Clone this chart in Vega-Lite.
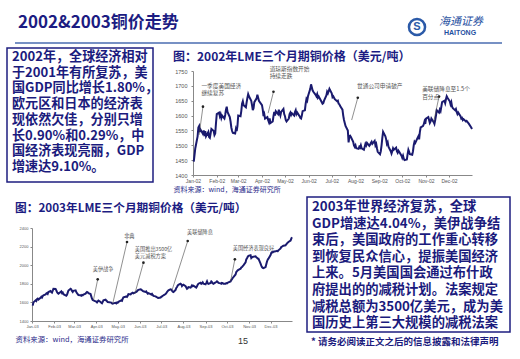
{
"$schema": "https://vega.github.io/schema/vega-lite/v6.json",
"width": 520,
"height": 359,
"autosize": "none",
"padding": 0,
"background": "white",
"config": {
  "view": {"stroke": null},
  "font": "Noto Sans CJK SC",
  "axis": {"labelFont": "Liberation Sans", "grid": false, "domainColor": "#888", "tickColor": "#888", "tickSize": 2, "labelColor": "#555", "titleFont": "Noto Sans CJK SC", "titleColor": "#2a2a8a", "titleFontWeight": "normal"}
},
"datasets": {
  "c1": [
    {"d":"2002/01/02","p":1445},{"d":"2002/01/04","p":1490},{"d":"2002/01/07","p":1530},{"d":"2002/01/08","p":1560},{"d":"2002/01/09","p":1565},{"d":"2002/01/10","p":1545},{"d":"2002/01/11","p":1552},{"d":"2002/01/14","p":1538},{"d":"2002/01/15","p":1550},{"d":"2002/01/16","p":1540},{"d":"2002/01/17","p":1548},{"d":"2002/01/18","p":1530},{"d":"2002/01/21","p":1545},{"d":"2002/01/22","p":1528},{"d":"2002/01/23","p":1525},{"d":"2002/01/24","p":1540},{"d":"2002/01/25","p":1555},{"d":"2002/01/28","p":1548},{"d":"2002/01/29","p":1535},{"d":"2002/01/30","p":1540},{"d":"2002/01/31","p":1575},
    {"d":"2002/02/01","p":1605},{"d":"2002/02/04","p":1610},{"d":"2002/02/05","p":1598},{"d":"2002/02/06","p":1605},{"d":"2002/02/07","p":1592},{"d":"2002/02/08","p":1600},{"d":"2002/02/11","p":1590},{"d":"2002/02/12","p":1602},{"d":"2002/02/13","p":1620},{"d":"2002/02/14","p":1630},{"d":"2002/02/15","p":1612},{"d":"2002/02/18","p":1595},{"d":"2002/02/19","p":1580},{"d":"2002/02/20","p":1560},{"d":"2002/02/21","p":1548},{"d":"2002/02/22","p":1542},{"d":"2002/02/25","p":1540},{"d":"2002/02/26","p":1555},{"d":"2002/02/27","p":1548},{"d":"2002/02/28","p":1565},
    {"d":"2002/03/01","p":1600},{"d":"2002/03/04","p":1598},{"d":"2002/03/05","p":1615},{"d":"2002/03/06","p":1640},{"d":"2002/03/07","p":1648},{"d":"2002/03/08","p":1635},{"d":"2002/03/11","p":1628},{"d":"2002/03/12","p":1645},{"d":"2002/03/13","p":1660},{"d":"2002/03/14","p":1672},{"d":"2002/03/15","p":1665},{"d":"2002/03/18","p":1650},{"d":"2002/03/19","p":1635},{"d":"2002/03/20","p":1618},{"d":"2002/03/21","p":1625},{"d":"2002/03/22","p":1645},{"d":"2002/03/25","p":1658},{"d":"2002/03/26","p":1670},{"d":"2002/03/27","p":1660},{"d":"2002/03/28","p":1650},
    {"d":"2002/04/01","p":1635},{"d":"2002/04/02","p":1620},{"d":"2002/04/03","p":1598},{"d":"2002/04/04","p":1605},{"d":"2002/04/05","p":1590},{"d":"2002/04/08","p":1595},{"d":"2002/04/09","p":1585},{"d":"2002/04/10","p":1578},{"d":"2002/04/11","p":1590},{"d":"2002/04/12","p":1575},{"d":"2002/04/15","p":1580},{"d":"2002/04/16","p":1598},{"d":"2002/04/17","p":1612},{"d":"2002/04/18","p":1600},{"d":"2002/04/19","p":1615},{"d":"2002/04/22","p":1605},{"d":"2002/04/23","p":1620},{"d":"2002/04/24","p":1608},{"d":"2002/04/25","p":1600},{"d":"2002/04/26","p":1612},{"d":"2002/04/29","p":1622},{"d":"2002/04/30","p":1605},
    {"d":"2002/05/01","p":1598},{"d":"2002/05/02","p":1585},{"d":"2002/05/03","p":1580},{"d":"2002/05/06","p":1590},{"d":"2002/05/07","p":1605},{"d":"2002/05/08","p":1610},{"d":"2002/05/09","p":1602},{"d":"2002/05/10","p":1608},{"d":"2002/05/13","p":1600},{"d":"2002/05/14","p":1612},{"d":"2002/05/15","p":1618},{"d":"2002/05/16","p":1605},{"d":"2002/05/17","p":1610},{"d":"2002/05/20","p":1598},{"d":"2002/05/21","p":1592},{"d":"2002/05/22","p":1590},{"d":"2002/05/23","p":1600},{"d":"2002/05/24","p":1615},{"d":"2002/05/27","p":1618},{"d":"2002/05/28","p":1640},{"d":"2002/05/29","p":1655},{"d":"2002/05/30","p":1650},{"d":"2002/05/31","p":1665},
    {"d":"2002/06/03","p":1690},{"d":"2002/06/04","p":1705},{"d":"2002/06/05","p":1695},{"d":"2002/06/06","p":1685},{"d":"2002/06/07","p":1680},{"d":"2002/06/10","p":1670},{"d":"2002/06/11","p":1665},{"d":"2002/06/12","p":1672},{"d":"2002/06/13","p":1660},{"d":"2002/06/14","p":1664},{"d":"2002/06/17","p":1650},{"d":"2002/06/18","p":1645},{"d":"2002/06/19","p":1640},{"d":"2002/06/20","p":1642},{"d":"2002/06/21","p":1650},{"d":"2002/06/24","p":1668},{"d":"2002/06/25","p":1680},{"d":"2002/06/26","p":1675},{"d":"2002/06/27","p":1682},{"d":"2002/06/28","p":1690},
    {"d":"2002/07/01","p":1675},{"d":"2002/07/02","p":1662},{"d":"2002/07/03","p":1665},{"d":"2002/07/05","p":1655},{"d":"2002/07/08","p":1648},{"d":"2002/07/09","p":1650},{"d":"2002/07/10","p":1640},{"d":"2002/07/11","p":1638},{"d":"2002/07/12","p":1632},{"d":"2002/07/15","p":1620},{"d":"2002/07/16","p":1600},{"d":"2002/07/17","p":1585},{"d":"2002/07/18","p":1575},{"d":"2002/07/19","p":1565},{"d":"2002/07/22","p":1550},{"d":"2002/07/23","p":1510},{"d":"2002/07/24","p":1530},{"d":"2002/07/25","p":1532},{"d":"2002/07/26","p":1528},{"d":"2002/07/29","p":1512},{"d":"2002/07/30","p":1500},{"d":"2002/07/31","p":1495},
    {"d":"2002/08/01","p":1500},{"d":"2002/08/02","p":1490},{"d":"2002/08/05","p":1488},{"d":"2002/08/06","p":1495},{"d":"2002/08/07","p":1492},{"d":"2002/08/08","p":1500},{"d":"2002/08/09","p":1490},{"d":"2002/08/12","p":1485},{"d":"2002/08/13","p":1495},{"d":"2002/08/14","p":1505},{"d":"2002/08/15","p":1500},{"d":"2002/08/16","p":1508},{"d":"2002/08/19","p":1498},{"d":"2002/08/20","p":1502},{"d":"2002/08/21","p":1508},{"d":"2002/08/22","p":1512},{"d":"2002/08/23","p":1505},{"d":"2002/08/26","p":1515},{"d":"2002/08/27","p":1500},{"d":"2002/08/28","p":1505},{"d":"2002/08/29","p":1490},{"d":"2002/08/30","p":1478},
    {"d":"2002/09/02","p":1470},{"d":"2002/09/03","p":1480},{"d":"2002/09/04","p":1500},{"d":"2002/09/05","p":1525},{"d":"2002/09/06","p":1545},{"d":"2002/09/09","p":1530},{"d":"2002/09/10","p":1520},{"d":"2002/09/11","p":1505},{"d":"2002/09/12","p":1510},{"d":"2002/09/13","p":1495},{"d":"2002/09/16","p":1480},{"d":"2002/09/17","p":1472},{"d":"2002/09/18","p":1480},{"d":"2002/09/19","p":1490},{"d":"2002/09/20","p":1485},{"d":"2002/09/23","p":1492},{"d":"2002/09/24","p":1480},{"d":"2002/09/25","p":1475},{"d":"2002/09/26","p":1482},{"d":"2002/09/27","p":1478},{"d":"2002/09/30","p":1465},
    {"d":"2002/10/01","p":1458},{"d":"2002/10/02","p":1465},{"d":"2002/10/03","p":1455},{"d":"2002/10/04","p":1450},{"d":"2002/10/07","p":1452},{"d":"2002/10/08","p":1470},{"d":"2002/10/09","p":1485},{"d":"2002/10/10","p":1478},{"d":"2002/10/11","p":1470},{"d":"2002/10/14","p":1468},{"d":"2002/10/15","p":1480},{"d":"2002/10/16","p":1500},{"d":"2002/10/17","p":1512},{"d":"2002/10/18","p":1508},{"d":"2002/10/21","p":1525},{"d":"2002/10/22","p":1530},{"d":"2002/10/23","p":1520},{"d":"2002/10/24","p":1545},{"d":"2002/10/25","p":1560},{"d":"2002/10/28","p":1565},{"d":"2002/10/29","p":1570},{"d":"2002/10/30","p":1580},{"d":"2002/10/31","p":1572},
    {"d":"2002/11/01","p":1590},{"d":"2002/11/04","p":1595},{"d":"2002/11/05","p":1585},{"d":"2002/11/06","p":1575},{"d":"2002/11/07","p":1580},{"d":"2002/11/08","p":1590},{"d":"2002/11/11","p":1578},{"d":"2002/11/12","p":1572},{"d":"2002/11/13","p":1585},{"d":"2002/11/14","p":1600},{"d":"2002/11/15","p":1618},{"d":"2002/11/18","p":1610},{"d":"2002/11/19","p":1620},{"d":"2002/11/20","p":1615},{"d":"2002/11/21","p":1630},{"d":"2002/11/22","p":1645},{"d":"2002/11/25","p":1650},{"d":"2002/11/26","p":1642},{"d":"2002/11/27","p":1655},{"d":"2002/11/28","p":1665},{"d":"2002/11/29","p":1660},
    {"d":"2002/12/02","p":1648},{"d":"2002/12/03","p":1638},{"d":"2002/12/04","p":1645},{"d":"2002/12/05","p":1630},{"d":"2002/12/06","p":1625},{"d":"2002/12/09","p":1618},{"d":"2002/12/10","p":1622},{"d":"2002/12/11","p":1612},{"d":"2002/12/12","p":1605},{"d":"2002/12/13","p":1610},{"d":"2002/12/16","p":1598},{"d":"2002/12/17","p":1590},{"d":"2002/12/18","p":1592},{"d":"2002/12/19","p":1585},{"d":"2002/12/20","p":1588},{"d":"2002/12/23","p":1580},{"d":"2002/12/24","p":1582},{"d":"2002/12/27","p":1572},{"d":"2002/12/30","p":1560},{"d":"2002/12/31","p":1555}
  ],
  "c2": [
    {"d":"2003/01/02","p":1565},{"d":"2003/01/03","p":1600},{"d":"2003/01/06","p":1622},{"d":"2003/01/07","p":1615},{"d":"2003/01/08","p":1635},{"d":"2003/01/09","p":1640},{"d":"2003/01/10","p":1630},{"d":"2003/01/13","p":1650},{"d":"2003/01/14","p":1660},{"d":"2003/01/15","p":1652},{"d":"2003/01/16","p":1668},{"d":"2003/01/17","p":1676},{"d":"2003/01/20","p":1685},{"d":"2003/01/21","p":1695},{"d":"2003/01/22","p":1701},{"d":"2003/01/23","p":1692},{"d":"2003/01/24","p":1712},{"d":"2003/01/27","p":1722},{"d":"2003/01/28","p":1712},{"d":"2003/01/29","p":1705},{"d":"2003/01/30","p":1725},{"d":"2003/01/31","p":1747},
    {"d":"2003/02/03","p":1745},{"d":"2003/02/04","p":1730},{"d":"2003/02/05","p":1712},{"d":"2003/02/06","p":1700},{"d":"2003/02/07","p":1694},{"d":"2003/02/10","p":1712},{"d":"2003/02/11","p":1718},{"d":"2003/02/12","p":1700},{"d":"2003/02/13","p":1706},{"d":"2003/02/14","p":1688},{"d":"2003/02/17","p":1676},{"d":"2003/02/18","p":1672},{"d":"2003/02/19","p":1682},{"d":"2003/02/20","p":1705},{"d":"2003/02/21","p":1728},{"d":"2003/02/24","p":1747},{"d":"2003/02/25","p":1740},{"d":"2003/02/26","p":1722},{"d":"2003/02/27","p":1712},{"d":"2003/02/28","p":1725},
    {"d":"2003/03/03","p":1730},{"d":"2003/03/04","p":1712},{"d":"2003/03/05","p":1700},{"d":"2003/03/06","p":1690},{"d":"2003/03/07","p":1680},{"d":"2003/03/10","p":1676},{"d":"2003/03/11","p":1672},{"d":"2003/03/12","p":1680},{"d":"2003/03/13","p":1676},{"d":"2003/03/14","p":1685},{"d":"2003/03/17","p":1694},{"d":"2003/03/18","p":1705},{"d":"2003/03/19","p":1712},{"d":"2003/03/20","p":1708},{"d":"2003/03/21","p":1700},{"d":"2003/03/24","p":1690},{"d":"2003/03/25","p":1665},{"d":"2003/03/26","p":1640},{"d":"2003/03/27","p":1625},{"d":"2003/03/28","p":1622},{"d":"2003/03/31","p":1612},
    {"d":"2003/04/01","p":1608},{"d":"2003/04/02","p":1600},{"d":"2003/04/03","p":1611},{"d":"2003/04/04","p":1620},{"d":"2003/04/07","p":1605},{"d":"2003/04/08","p":1595},{"d":"2003/04/09","p":1590},{"d":"2003/04/10","p":1605},{"d":"2003/04/11","p":1622},{"d":"2003/04/14","p":1630},{"d":"2003/04/15","p":1620},{"d":"2003/04/16","p":1612},{"d":"2003/04/17","p":1604},{"d":"2003/04/22","p":1598},{"d":"2003/04/23","p":1590},{"d":"2003/04/24","p":1586},{"d":"2003/04/25","p":1590},{"d":"2003/04/28","p":1595},{"d":"2003/04/29","p":1590},{"d":"2003/04/30","p":1600},
    {"d":"2003/05/01","p":1596},{"d":"2003/05/02","p":1606},{"d":"2003/05/06","p":1622},{"d":"2003/05/07","p":1618},{"d":"2003/05/08","p":1640},{"d":"2003/05/09","p":1655},{"d":"2003/05/12","p":1660},{"d":"2003/05/13","p":1665},{"d":"2003/05/14","p":1660},{"d":"2003/05/15","p":1672},{"d":"2003/05/16","p":1690},{"d":"2003/05/19","p":1685},{"d":"2003/05/20","p":1695},{"d":"2003/05/21","p":1700},{"d":"2003/05/22","p":1704},{"d":"2003/05/23","p":1698},{"d":"2003/05/27","p":1712},{"d":"2003/05/28","p":1720},{"d":"2003/05/29","p":1730},{"d":"2003/05/30","p":1735},
    {"d":"2003/06/02","p":1740},{"d":"2003/06/03","p":1737},{"d":"2003/06/04","p":1730},{"d":"2003/06/05","p":1724},{"d":"2003/06/06","p":1720},{"d":"2003/06/09","p":1712},{"d":"2003/06/10","p":1718},{"d":"2003/06/11","p":1705},{"d":"2003/06/12","p":1694},{"d":"2003/06/13","p":1700},{"d":"2003/06/16","p":1690},{"d":"2003/06/17","p":1684},{"d":"2003/06/18","p":1692},{"d":"2003/06/19","p":1680},{"d":"2003/06/20","p":1670},{"d":"2003/06/23","p":1665},{"d":"2003/06/24","p":1660},{"d":"2003/06/25","p":1655},{"d":"2003/06/26","p":1650},{"d":"2003/06/27","p":1647},{"d":"2003/06/30","p":1652},
    {"d":"2003/07/01","p":1660},{"d":"2003/07/02","p":1665},{"d":"2003/07/03","p":1672},{"d":"2003/07/04","p":1676},{"d":"2003/07/07","p":1690},{"d":"2003/07/08","p":1700},{"d":"2003/07/09","p":1712},{"d":"2003/07/10","p":1722},{"d":"2003/07/11","p":1730},{"d":"2003/07/14","p":1740},{"d":"2003/07/15","p":1738},{"d":"2003/07/16","p":1725},{"d":"2003/07/17","p":1715},{"d":"2003/07/18","p":1712},{"d":"2003/07/21","p":1735},{"d":"2003/07/22","p":1755},{"d":"2003/07/23","p":1765},{"d":"2003/07/24","p":1780},{"d":"2003/07/25","p":1790},{"d":"2003/07/28","p":1801},{"d":"2003/07/29","p":1795},{"d":"2003/07/30","p":1776},{"d":"2003/07/31","p":1785},
    {"d":"2003/08/01","p":1790},{"d":"2003/08/04","p":1775},{"d":"2003/08/05","p":1760},{"d":"2003/08/06","p":1747},{"d":"2003/08/07","p":1752},{"d":"2003/08/08","p":1765},{"d":"2003/08/11","p":1760},{"d":"2003/08/12","p":1770},{"d":"2003/08/13","p":1783},{"d":"2003/08/14","p":1775},{"d":"2003/08/15","p":1780},{"d":"2003/08/18","p":1765},{"d":"2003/08/19","p":1760},{"d":"2003/08/20","p":1772},{"d":"2003/08/21","p":1790},{"d":"2003/08/22","p":1801},{"d":"2003/08/25","p":1812},{"d":"2003/08/26","p":1800},{"d":"2003/08/27","p":1805},{"d":"2003/08/28","p":1815},{"d":"2003/08/29","p":1801},
    {"d":"2003/09/01","p":1795},{"d":"2003/09/02","p":1810},{"d":"2003/09/03","p":1826},{"d":"2003/09/04","p":1805},{"d":"2003/09/05","p":1800},{"d":"2003/09/08","p":1810},{"d":"2003/09/09","p":1825},{"d":"2003/09/10","p":1818},{"d":"2003/09/11","p":1805},{"d":"2003/09/12","p":1800},{"d":"2003/09/15","p":1815},{"d":"2003/09/16","p":1819},{"d":"2003/09/17","p":1826},{"d":"2003/09/18","p":1820},{"d":"2003/09/19","p":1810},{"d":"2003/09/22","p":1805},{"d":"2003/09/23","p":1801},{"d":"2003/09/24","p":1810},{"d":"2003/09/25","p":1808},{"d":"2003/09/26","p":1800},{"d":"2003/09/29","p":1800},{"d":"2003/09/30","p":1808},
    {"d":"2003/10/01","p":1805},{"d":"2003/10/02","p":1812},{"d":"2003/10/03","p":1815},{"d":"2003/10/06","p":1826},{"d":"2003/10/07","p":1840},{"d":"2003/10/08","p":1850},{"d":"2003/10/09","p":1862},{"d":"2003/10/10","p":1873},{"d":"2003/10/13","p":1900},{"d":"2003/10/14","p":1926},{"d":"2003/10/15","p":1935},{"d":"2003/10/16","p":1945},{"d":"2003/10/17","p":1950},{"d":"2003/10/20","p":1962},{"d":"2003/10/21","p":1975},{"d":"2003/10/22","p":1980},{"d":"2003/10/23","p":1990},{"d":"2003/10/24","p":1998},{"d":"2003/10/27","p":2030},{"d":"2003/10/28","p":2063},{"d":"2003/10/29","p":2075},{"d":"2003/10/30","p":2090},{"d":"2003/10/31","p":2100},
    {"d":"2003/11/03","p":2106},{"d":"2003/11/04","p":2077},{"d":"2003/11/05","p":2085},{"d":"2003/11/06","p":2090},{"d":"2003/11/07","p":2092},{"d":"2003/11/10","p":2095},{"d":"2003/11/11","p":2085},{"d":"2003/11/12","p":2080},{"d":"2003/11/13","p":2072},{"d":"2003/11/14","p":2070},{"d":"2003/11/17","p":2016},{"d":"2003/11/18","p":1995},{"d":"2003/11/19","p":1980},{"d":"2003/11/20","p":1972},{"d":"2003/11/21","p":1969},{"d":"2003/11/24","p":1980},{"d":"2003/11/25","p":2010},{"d":"2003/11/26","p":2040},{"d":"2003/11/27","p":2060},{"d":"2003/11/28","p":2070},
    {"d":"2003/12/01","p":2110},{"d":"2003/12/02","p":2134},{"d":"2003/12/03","p":2140},{"d":"2003/12/04","p":2138},{"d":"2003/12/05","p":2145},{"d":"2003/12/08","p":2149},{"d":"2003/12/09","p":2152},{"d":"2003/12/10","p":2155},{"d":"2003/12/11","p":2150},{"d":"2003/12/12","p":2160},{"d":"2003/12/15","p":2180},{"d":"2003/12/16","p":2196},{"d":"2003/12/17","p":2200},{"d":"2003/12/18","p":2205},{"d":"2003/12/19","p":2210},{"d":"2003/12/22","p":2214},{"d":"2003/12/23","p":2225},{"d":"2003/12/24","p":2235},{"d":"2003/12/26","p":2250},{"d":"2003/12/29","p":2265},{"d":"2003/12/30","p":2286},{"d":"2003/12/31","p":2300}
  ],
  "a1t": [
    {"d":"2002/01/12","p":1700,"t":"一季度美国经济"},{"d":"2002/01/12","p":1675,"t":"继续复苏"},
    {"d":"2002/04/11","p":1756,"t":"道琼斯指数开始"},{"d":"2002/04/11","p":1733,"t":"持续走跌"},
    {"d":"2002/08/03","p":1700,"t":"世通公司申请破产"},
    {"d":"2002/10/27","p":1689,"t":"美联储降息至1.5个"},{"d":"2002/10/27","p":1662,"t":"百分点"}
  ],
  "a1r": [
    {"d1":"2002/01/09","p1":1535,"d2":"2002/01/14","p2":1630},
    {"d1":"2002/04/09","p1":1608,"d2":"2002/04/16","p2":1680},
    {"d1":"2002/07/27","p1":1585,"d2":"2002/08/04","p2":1660},
    {"d1":"2002/11/11","p1":1579,"d2":"2002/11/18","p2":1664}
  ],
  "a2t": [
    {"d":"2003/03/27","p":1962,"t":"美伊战争"},
    {"d":"2003/05/10","p":2314,"t":"非典"},
    {"d":"2003/05/25","p":2172,"t":"美国推出3500亿"},{"d":"2003/05/25","p":2100,"t":"美元减税方案"},
    {"d":"2003/08/06","p":2357,"t":"美联储降息"},
    {"d":"2003/10/09","p":2185,"t":"美国经济表现良好"}
  ],
  "a2r": [
    {"d1":"2003/03/28","p1":1623,"d2":"2003/04/03","p2":1848},
    {"d1":"2003/04/24","p1":1586,"d2":"2003/05/14","p2":2249},
    {"d1":"2003/05/25","p1":1694,"d2":"2003/06/06","p2":2027},
    {"d1":"2003/07/16","p1":1730,"d2":"2003/08/07","p2":2260},
    {"d1":"2003/10/06","p1":1827,"d2":"2003/10/12","p2":2063}
  ]
},
"resolve": {"scale": {"x": "independent", "y": "independent"}, "axis": {"x": "independent", "y": "independent"}},
"layer": [
  {"data": {"values": [{}]}, "mark": {"type": "text", "text": "2002&2003铜价走势", "x": 18, "y": 23, "align": "left", "baseline": "middle", "fontSize": 17, "fontWeight": "bold", "font": "Noto Sans CJK SC", "color": "#1c1c82"}},
  {"data": {"values": [{}]}, "mark": {"type": "rule", "color": "#4a6db0", "strokeWidth": 1.5}, "encoding": {"x": {"value": 15}, "x2": {"value": 502}, "y": {"value": 43}}},
  {"data": {"values": [{}]}, "mark": {"type": "point", "x": 417, "y": 27, "size": 260, "filled": false, "stroke": "#2b5aa8", "strokeWidth": 2.5, "opacity": 1}},
  {"data": {"values": [{}]}, "mark": {"type": "text", "text": "S", "x": 417, "y": 27, "align": "center", "baseline": "middle", "fontSize": 11, "fontWeight": "bold", "font": "Liberation Sans", "color": "#2b5aa8"}},
  {"data": {"values": [{}]}, "mark": {"type": "text", "text": "海通证券", "x": 461, "y": 22, "align": "center", "baseline": "middle", "fontSize": 11, "fontStyle": "italic", "font": "Noto Sans CJK SC", "color": "#1f4f9f"}},
  {"data": {"values": [{}]}, "mark": {"type": "text", "text": "HAITONG", "x": 460, "y": 32.5, "align": "center", "baseline": "middle", "fontSize": 7, "fontWeight": "bold", "font": "Liberation Sans", "color": "#1f4f9f"}},

  {"data": {"values": [{}]}, "mark": {"type": "rect", "x": 7, "x2": 153, "y": 48, "y2": 182, "fill": null, "stroke": "#1e1e80", "strokeWidth": 1.5}},
  {"data": {"values": [{}]}, "mark": {"type": "text", "x": 12, "y": 51, "align": "left", "baseline": "top", "lineHeight": 15.7, "fontSize": 13.1, "fontWeight": "bold", "font": "Noto Sans CJK SC", "color": "#1b1b7d",
      "text": ["2002年，全球经济相对", "于2001年有所复苏，美", "国GDP同比增长1.80%，", "欧元区和日本的经济表", "现依然欠佳，分别只增", "长0.90%和0.29%，中", "国经济表现亮丽，GDP", "增速达9.10%。"]}},

  {"data": {"values": [{}]}, "mark": {"type": "rect", "x": 307, "x2": 510, "y": 197, "y2": 332, "fill": null, "stroke": "#1e1e80", "strokeWidth": 1.5}},
  {"data": {"values": [{}]}, "mark": {"type": "text", "x": 312, "y": 200, "align": "left", "baseline": "top", "lineHeight": 16.6, "fontSize": 13.3, "fontWeight": "bold", "font": "Noto Sans CJK SC", "color": "#1b1b7d",
      "text": ["2003年世界经济复苏，全球", "GDP增速达4.04%，美伊战争结", "束后，美国政府的工作重心转移", "到恢复民众信心，提振美国经济", "上来。5月美国国会通过布什政", "府提出的的减税计划。法案规定", "减税总额为3500亿美元，成为美", "国历史上第三大规模的减税法案"]}},
  {"data": {"values": [{}]}, "mark": {"type": "text", "x": 311, "y": 342, "align": "left", "baseline": "middle", "fontSize": 9.5, "fontWeight": "bold", "font": "Noto Sans CJK SC", "color": "#1b1b7d", "text": "* 请务必阅读正文之后的信息披露和法律声明"}},

  {"data": {"values": [{}]}, "mark": {"type": "text", "text": "图：2002年LME三个月期铜价格（美元/吨）", "x": 173, "y": 57, "align": "left", "baseline": "middle", "fontSize": 12, "fontWeight": "bold", "font": "Noto Sans CJK SC", "color": "#1c1c82"}},
  {"data": {"values": [{}]}, "mark": {"type": "text", "text": "图：2003年LME三个月期铜价格（美元/吨）", "x": 15, "y": 208, "align": "left", "baseline": "middle", "fontSize": 11.7, "fontWeight": "bold", "font": "Noto Sans CJK SC", "color": "#1c1c82"}},
  {"data": {"values": [{}]}, "mark": {"type": "text", "text": "15", "x": 243, "y": 341, "align": "center", "baseline": "middle", "fontSize": 9, "font": "Liberation Sans", "color": "#333"}},

  {
    "layer": [
      {"data": {"name": "c1"}, "mark": {"type": "line", "color": "#1a1a6e", "strokeWidth": 2},
       "encoding": {
         "x": {"field": "d", "type": "temporal", "scale": {"domain": [{"year": 2002, "month": 1, "date": 1}, {"year": 2002, "month": 12, "date": 31}], "nice": false, "range": [193, 472]},
               "axis": {"orient": "bottom", "offset": -184, "format": "%b-%y", "tickCount": {"interval": "month", "step": 1}, "labelOverlap": false, "labelFlush": false, "labelFontSize": 5, "labelPadding": 1,
                        "title": "资料来源：wind，海通证券研究所", "titleX": 173, "titleY": 14, "titleAlign": "left", "titleBaseline": "middle", "titleFontSize": 7}},
         "y": {"field": "p", "type": "quantitative", "scale": {"domain": [1400, 1750], "nice": false, "zero": false, "range": [175, 71]},
               "axis": {"orient": "left", "offset": -193, "values": [1400, 1450, 1500, 1550, 1600, 1650, 1700, 1750], "format": "d", "title": null, "labelFontSize": 5.5, "labelPadding": 4}}
       }},
      {"data": {"name": "a1r"}, "mark": {"type": "rule", "color": "#444", "strokeWidth": 0.6},
       "encoding": {"x": {"field": "d1", "type": "temporal"}, "y": {"field": "p1", "type": "quantitative"}, "x2": {"field": "d2"}, "y2": {"field": "p2"}}},
      {"data": {"name": "a1r"}, "mark": {"type": "point", "filled": true, "color": "#222", "size": 7, "opacity": 1},
       "encoding": {"x": {"field": "d2", "type": "temporal"}, "y": {"field": "p2", "type": "quantitative"}}},
      {"data": {"name": "a1t"}, "mark": {"type": "text", "align": "left", "baseline": "middle", "fontSize": 5.7, "color": "#555", "font": "Noto Sans CJK SC"},
       "encoding": {"x": {"field": "d", "type": "temporal"}, "y": {"field": "p", "type": "quantitative"}, "text": {"field": "t"}}}
    ]
  },
  {
    "layer": [
      {"data": {"name": "c2"}, "mark": {"type": "line", "color": "#1a1a6e", "strokeWidth": 2},
       "encoding": {
         "x": {"field": "d", "type": "temporal", "scale": {"domain": [{"year": 2003, "month": 1, "date": 1}, {"year": 2003, "month": 12, "date": 31}], "nice": false, "range": [32, 292]},
               "axis": {"orient": "bottom", "offset": -38, "format": "%b-%y", "tickCount": {"interval": "month", "step": 1}, "labelOverlap": false, "labelFlush": false, "labelFontSize": 4, "labelPadding": 1,
                        "title": "资料来源：wind，海通证券研究所", "titleX": 15, "titleY": 18, "titleAlign": "left", "titleBaseline": "middle", "titleFontSize": 7.4}},
         "y": {"field": "p", "type": "quantitative", "scale": {"domain": [1400, 2400], "nice": false, "zero": false, "range": [321, 228]},
               "axis": {"orient": "left", "offset": -32, "values": [1400, 1500, 1600, 1700, 1800, 1900, 2000, 2100, 2200, 2300, 2400], "format": "d", "title": null, "labelFontSize": 4, "labelPadding": 2}}
       }},
      {"data": {"name": "a2r"}, "mark": {"type": "rule", "color": "#444", "strokeWidth": 0.6},
       "encoding": {"x": {"field": "d1", "type": "temporal"}, "y": {"field": "p1", "type": "quantitative"}, "x2": {"field": "d2"}, "y2": {"field": "p2"}}},
      {"data": {"name": "a2r"}, "mark": {"type": "point", "filled": true, "color": "#222", "size": 7, "opacity": 1},
       "encoding": {"x": {"field": "d2", "type": "temporal"}, "y": {"field": "p2", "type": "quantitative"}}},
      {"data": {"name": "a2t"}, "mark": {"type": "text", "align": "left", "baseline": "middle", "fontSize": 5.2, "color": "#555", "font": "Noto Sans CJK SC"},
       "encoding": {"x": {"field": "d", "type": "temporal"}, "y": {"field": "p", "type": "quantitative"}, "text": {"field": "t"}}}
    ]
  }
]
}
